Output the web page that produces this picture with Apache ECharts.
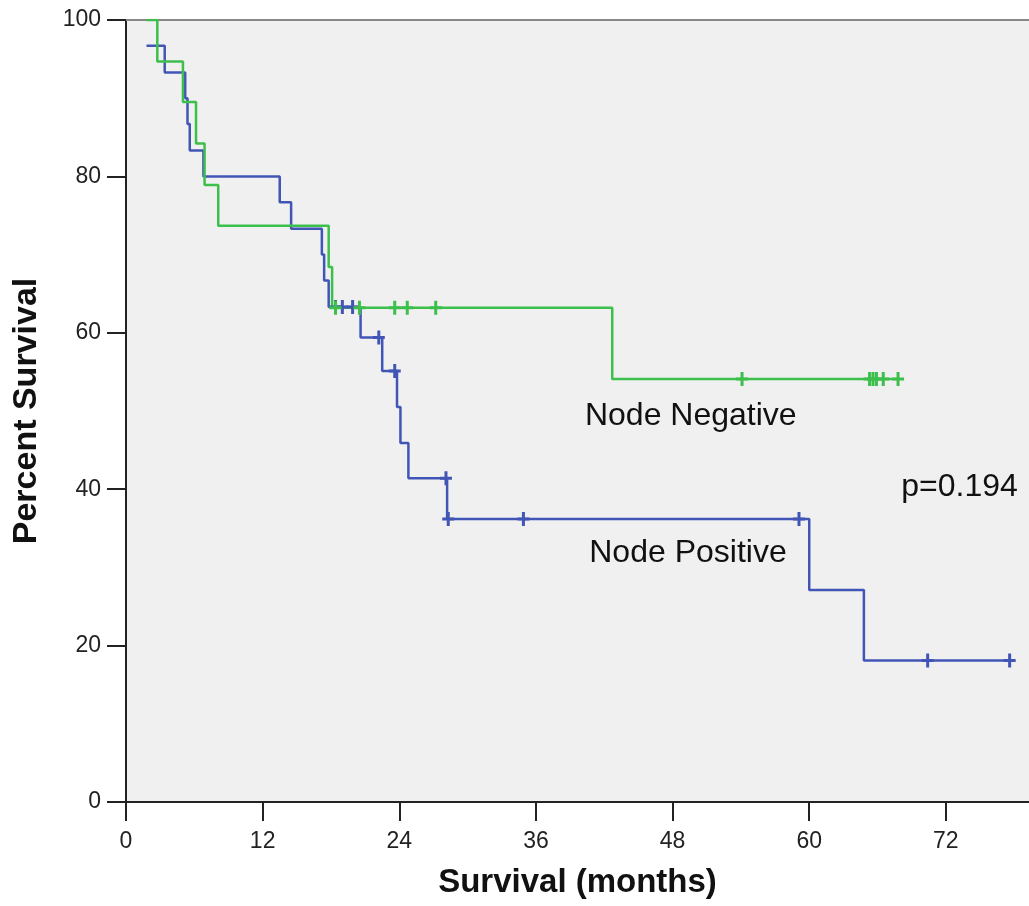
<!DOCTYPE html>
<html>
<head>
<meta charset="utf-8">
<script src="https://cdn.jsdelivr.net/npm/echarts@6/dist/echarts.min.js"></script>
<style>
html,body{margin:0;padding:0;background:#fff;}
#chart{width:1029px;height:906px;}
</style>
</head>
<body>
<div id="chart"></div>
<script>
// Node Negative: event times (months) and survival after each event
var negTimes = [1.8, 2.75, 5.0, 6.15, 6.9, 8.1, 17.8, 18.1, 42.7, 67.8];
var negSurv  = [100, 94.7, 89.5, 84.2, 78.9, 73.7, 68.4, 63.2, 54.1, 54.1];
var negCensorTimes = [18.4, 20.5, 23.6, 24.7, 27.2, 54.1, 65.3, 65.6, 65.9, 66.5, 67.8];
var negCensorSurv  = [63.2, 63.2, 63.2, 63.2, 63.2, 54.1, 54.1, 54.1, 54.1, 54.1, 54.1];

// Node Positive
var posTimes = [1.8, 3.4, 5.2, 5.4, 5.6, 6.8, 13.5, 14.5, 17.2, 17.4, 17.8, 20.6, 22.5, 23.8, 24.1, 24.8, 28.2, 60.0, 64.8, 77.6];
var posSurv  = [96.7, 93.3, 90.0, 86.7, 83.3, 80.0, 76.7, 73.3, 70.0, 66.7, 63.3, 59.4, 55.1, 50.5, 45.9, 41.4, 36.2, 27.1, 18.1, 18.1];
var posCensorTimes = [18.4, 19.0, 19.9, 22.2, 23.6, 28.1, 28.3, 34.9, 59.1, 70.4, 77.6];
var posCensorSurv  = [63.3, 63.3, 63.3, 59.4, 55.1, 41.4, 36.2, 36.2, 36.2, 18.1, 18.1];

// annotations
var noteTexts = ['Node Negative', 'Node Positive', 'p=0.194'];
var noteX = [49.6, 49.35, 73.2];
var noteY = [49.4, 31.8, 40.3];

var xTickStep = 12;
var yTickStep = 20;

var greenColor = '#3dbf4b';
var blueColor = '#4155b6';
var plusPath = 'path://M4.5,0h3v5.5h4.5v3h-4.5v5.5h-3v-5.5h-4.5v-3h4.5z';

function pairs(xs, ys) {
    var out = [];
    for (var i = 0; i < xs.length; i++) out.push([xs[i], ys[i]]);
    return out;
}

var chart = echarts.init(document.getElementById('chart'));

var option = {
    animation: false,
    backgroundColor: '#ffffff',
    textStyle: {fontFamily: 'Liberation Sans, Arial, sans-serif'},
    grid: {
        left: 126,
        right: 0,
        top: 20,
        bottom: 104,
        show: true,
        backgroundColor: '#f0f0f0',
        borderWidth: 0
    },
    xAxis: [{
        type: 'value',
        min: 0,
        max: 79.3,
        interval: xTickStep,
        name: 'Survival (months)',
        nameLocation: 'middle',
        nameGap: 64,
        nameTextStyle: {fontSize: 33, fontWeight: 'bold', color: '#111'},
        axisLine: {lineStyle: {color: '#222', width: 2}},
        axisTick: {show: true, length: 19, lineStyle: {color: '#222', width: 2}},
        axisLabel: {fontSize: 23, color: '#222', margin: 28, showMaxLabel: false},
        splitLine: {show: false}
    }, {
        type: 'value',
        position: 'top',
        min: 0,
        max: 79.3,
        axisLine: {show: true, lineStyle: {color: '#888', width: 2}},
        axisTick: {show: false},
        axisLabel: {show: false},
        splitLine: {show: false}
    }],
    yAxis: {
        type: 'value',
        min: 0,
        max: 100,
        interval: yTickStep,
        name: 'Percent Survival',
        nameLocation: 'middle',
        nameGap: 82,
        nameTextStyle: {fontSize: 34, fontWeight: 'bold', color: '#111'},
        axisLine: {show: true, lineStyle: {color: '#222', width: 2}},
        axisTick: {show: true, length: 19, lineStyle: {color: '#222', width: 2}},
        axisLabel: {fontSize: 23, color: '#222', margin: 25},
        splitLine: {show: false}
    },
    series: [
        {
            name: 'Node Negative',
            type: 'line',
            step: 'end',
            data: pairs(negTimes, negSurv),
            showSymbol: false,
            lineStyle: {color: greenColor, width: 2.5},
            z: 3
        },
        {
            name: 'Node Positive',
            type: 'line',
            step: 'end',
            data: pairs(posTimes, posSurv),
            showSymbol: false,
            lineStyle: {color: blueColor, width: 2.5},
            z: 2
        },
        {
            name: 'Node Negative censored',
            type: 'scatter',
            data: pairs(negCensorTimes, negCensorSurv),
            symbol: plusPath,
            symbolSize: [12, 14],
            itemStyle: {color: greenColor, opacity: 1},
            z: 4
        },
        {
            name: 'Node Positive censored',
            type: 'scatter',
            data: pairs(posCensorTimes, posCensorSurv),
            symbol: plusPath,
            symbolSize: [12, 14],
            itemStyle: {color: blueColor, opacity: 1},
            z: 3
        },
        {
            name: 'notes',
            type: 'scatter',
            symbolSize: 0,
            itemStyle: {opacity: 1},
            data: noteTexts.map(function (t, i) {
                return {name: t, value: [noteX[i], noteY[i]]};
            }),
            label: {
                show: true,
                position: 'inside',
                formatter: '{b}',
                fontSize: 32,
                color: '#111',
                opacity: 1
            },
            z: 5
        }
    ]
};

chart.setOption(option);
</script>
</body>
</html>
